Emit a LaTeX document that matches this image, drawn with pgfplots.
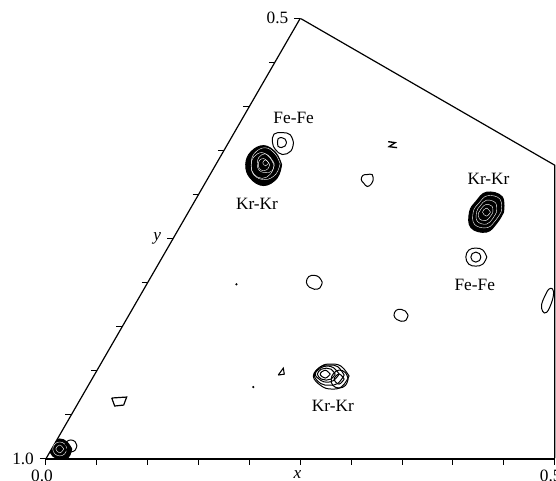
\documentclass[border=0pt]{standalone}
\usepackage{fontspec}
\setmainfont{Liberation Serif}
\usepackage{pgfplots}
\pgfplotsset{compat=1.18}
\pgfplotsset{
 cont/.style={black, line width=0.75pt, smooth, tension=0.7, mark=none},
 blk/.style={black, fill=black, line width=0.75pt, smooth, tension=0.7, mark=none},
 wht/.style={white, line width=0.3pt, smooth, tension=0.7, mark=none},
}
\begin{document}
\fontsize{13}{15}\selectfont
\begin{tikzpicture}
\begin{axis}[
  x={(765pt,0pt)}, y={(-382.5pt,-662.5pt)},
  xmin=0, xmax=0.5, ymin=0.5, ymax=1,
  axis x line=bottom, axis y line=left,
  axis line style={-, line width=0.9pt},
  tick align=outside,
  major tick length=4.5pt,
  tick style={line width=0.8pt, black},
  xtick={0,0.05,0.1,0.15,0.2,0.25,0.3,0.35,0.4,0.45,0.5},
  xticklabels={0.0,,,,,\textit{x},,,,,0.5},
  ytick={0.5,0.55,0.6,0.65,0.7,0.75,0.8,0.85,0.9,0.95,1.0},
  yticklabels={0.5,,,,,\textit{y},,,,,1.0},
  ticklabel style={font=\fontsize{13}{15}\selectfont},
  xticklabel style={xshift=4.5pt},
  clip marker paths=false,
]
\coordinate (O) at (axis cs:0,1);
% frame
\addplot[black, line width=0.9pt, mark=none] coordinates {(0,0.5) (0.33333,0.66667) (0.5,1)};
% x-axis tick marks below the line
\addplot[only marks, mark=|, mark size=2.6pt, mark options={yshift=-2.2pt, line width=0.8pt}, black] coordinates {(0,1) (0.05,1) (0.1,1) (0.15,1) (0.2,1) (0.25,1) (0.3,1) (0.35,1) (0.4,1) (0.45,1) (0.5,1)};
% Kr-Kr upper left
\addplot[blk] coordinates {(0.0646,0.6660) (0.0520,0.6524) (0.0363,0.6445) (0.0273,0.6516) (0.0294,0.6660) (0.0414,0.6812) (0.0589,0.6898) (0.0678,0.6812) (0.0646,0.6660)};
\addplot[wht] coordinates {(0.0627,0.6650) (0.0521,0.6538) (0.0390,0.6469) (0.0316,0.6530) (0.0343,0.6650) (0.0433,0.6778) (0.0570,0.6831) (0.0644,0.6770) (0.0627,0.6650)};
\addplot[wht] coordinates {(0.0578,0.6670) (0.0492,0.6582) (0.0387,0.6523) (0.0329,0.6574) (0.0352,0.6670) (0.0425,0.6766) (0.0534,0.6817) (0.0591,0.6766) (0.0578,0.6670)};
\addplot[wht] coordinates {(0.0568,0.6650) (0.0503,0.6586) (0.0424,0.6537) (0.0382,0.6578) (0.0402,0.6650) (0.0454,0.6722) (0.0531,0.6752) (0.0589,0.6730) (0.0568,0.6650)};
\addplot[wht] coordinates {(0.0529,0.6660) (0.0485,0.6620) (0.0436,0.6592) (0.0404,0.6612) (0.0421,0.6660) (0.0452,0.6708) (0.0504,0.6728) (0.0536,0.6708) (0.0529,0.6660)};
\addplot[wht] coordinates {(0.0509,0.6640) (0.0463,0.6606) (0.0451,0.6640) (0.0497,0.6674) (0.0509,0.6640)};
% Fe-Fe upper
\addplot[cont] coordinates {(0.0638,0.6410) (0.0562,0.6322) (0.0474,0.6297) (0.0399,0.6314) (0.0432,0.6410) (0.0501,0.6490) (0.0598,0.6546) (0.0661,0.6506) (0.0638,0.6410)};
\addplot[cont] coordinates {(0.0569,0.6410) (0.0535,0.6370) (0.0492,0.6353) (0.0465,0.6370) (0.0481,0.6410) (0.0505,0.6450) (0.0548,0.6467) (0.0575,0.6450) (0.0569,0.6410)};
% Kr-Kr right
\addplot[blk] coordinates {(0.3097,0.7200) (0.2995,0.7024) (0.2817,0.6974) (0.2766,0.7080) (0.2763,0.7200) (0.2866,0.7376) (0.3043,0.7426) (0.3094,0.7320) (0.3097,0.7200)};
\addplot[wht] coordinates {(0.3072,0.7195) (0.2988,0.7051) (0.2845,0.7014) (0.2804,0.7099) (0.2798,0.7195) (0.2882,0.7339) (0.3025,0.7376) (0.3066,0.7291) (0.3072,0.7195)};
\addplot[wht] coordinates {(0.3028,0.7200) (0.2968,0.7096) (0.2862,0.7064) (0.2832,0.7128) (0.2832,0.7200) (0.2892,0.7304) (0.2998,0.7336) (0.3028,0.7272) (0.3028,0.7200)};
\addplot[wht] coordinates {(0.2994,0.7205) (0.2951,0.7133) (0.2880,0.7114) (0.2859,0.7157) (0.2856,0.7205) (0.2899,0.7277) (0.2970,0.7296) (0.2991,0.7253) (0.2994,0.7205)};
\addplot[wht] coordinates {(0.2969,0.7200) (0.2907,0.7155) (0.2891,0.7200) (0.2953,0.7245) (0.2969,0.7200)};
% Fe-Fe right
\addplot[cont] coordinates {(0.3188,0.7710) (0.3109,0.7630) (0.3029,0.7608) (0.2971,0.7630) (0.2982,0.7710) (0.3051,0.7790) (0.3131,0.7812) (0.3189,0.7790) (0.3188,0.7710)};
\addplot[cont] coordinates {(0.3129,0.7710) (0.3095,0.7670) (0.3052,0.7653) (0.3025,0.7670) (0.3031,0.7710) (0.3065,0.7750) (0.3108,0.7767) (0.3135,0.7750) (0.3129,0.7710)};
% Kr-Kr bottom
\addplot[cont] coordinates {(0.2510,0.9060) (0.2375,0.8948) (0.2266,0.8924) (0.2181,0.8948) (0.2158,0.9060) (0.2293,0.9172) (0.2408,0.9207) (0.2498,0.9180) (0.2510,0.9060)};
\addplot[cont] coordinates {(0.2456,0.9049) (0.2344,0.8953) (0.2253,0.8936) (0.2178,0.8953) (0.2162,0.9049) (0.2274,0.9145) (0.2366,0.9162) (0.2440,0.9145) (0.2456,0.9049)};
\addplot[cont] coordinates {(0.2402,0.9038) (0.2310,0.8966) (0.2239,0.8947) (0.2186,0.8966) (0.2166,0.9038) (0.2258,0.9110) (0.2329,0.9129) (0.2382,0.9110) (0.2402,0.9038)};
\addplot[cont] coordinates {(0.2362,0.9038) (0.2295,0.8982) (0.2240,0.8970) (0.2198,0.8982) (0.2186,0.9038) (0.2254,0.9094) (0.2308,0.9106) (0.2351,0.9094) (0.2362,0.9038)};
\addplot[cont] coordinates {(0.2313,0.9038) (0.2241,0.8993) (0.2215,0.9038) (0.2287,0.9083) (0.2313,0.9038)};
\addplot[cont] coordinates {(0.2517,0.9094) (0.2455,0.9022) (0.2378,0.8992) (0.2342,0.9030) (0.2351,0.9094) (0.2403,0.9166) (0.2480,0.9196) (0.2527,0.9166) (0.2517,0.9094)};
\addplot[cont] coordinates {(0.2478,0.9094) (0.2401,0.9037) (0.2380,0.9094) (0.2457,0.9151) (0.2478,0.9094)};
% origin peak
\addplot[blk] coordinates {(0.0198,0.9887) (0.0109,0.9807) (0.0024,0.9774) (-0.0029,0.9807) (-0.0018,0.9887) (0.0051,0.9967) (0.0137,1.0000) (0.0211,0.9983) (0.0198,0.9887)};
\addplot[wht] coordinates {(0.0149,0.9887) (0.0101,0.9831) (0.0040,0.9808) (0.0004,0.9831) (0.0011,0.9887) (0.0060,0.9943) (0.0120,0.9966) (0.0157,0.9943) (0.0149,0.9887)};
\addplot[wht] coordinates {(0.0119,0.9887) (0.0057,0.9842) (0.0041,0.9887) (0.0103,0.9932) (0.0119,0.9887)};
\addplot[cont] coordinates {(0.0231,0.9853) (0.0190,0.9805) (0.0138,0.9785) (0.0106,0.9805) (0.0113,0.9853) (0.0154,0.9901) (0.0206,0.9921) (0.0238,0.9901) (0.0231,0.9853)};
% small features
\addplot[cont] coordinates {(0.1632,0.6830) (0.1594,0.6774) (0.1545,0.6773) (0.1507,0.6782) (0.1514,0.6830) (0.1558,0.6870) (0.1613,0.6909) (0.1639,0.6878) (0.1632,0.6830)};
\addplot[black, line width=1pt, mark=none] coordinates {(0.1564,0.6400) (0.1638,0.6411) (0.1602,0.6457) (0.1686,0.6468)};
\addplot[cont] coordinates {(0.1714,0.7996) (0.1657,0.7940) (0.1596,0.7917) (0.1549,0.7932) (0.1558,0.7996) (0.1616,0.8052) (0.1676,0.8075) (0.1723,0.8060) (0.1714,0.7996)};
\addplot[cont] coordinates {(0.2744,0.8370) (0.2693,0.8322) (0.2641,0.8302) (0.2599,0.8314) (0.2606,0.8370) (0.2657,0.8418) (0.2709,0.8438) (0.2752,0.8426) (0.2744,0.8370)};
\addplot[cont] coordinates {(0.4003,0.8064) (0.4045,0.8109) (0.4082,0.8223) (0.4090,0.8336) (0.4044,0.8324) (0.3995,0.8245) (0.3978,0.8132) (0.3979,0.8075) (0.4003,0.8064)};
\addplot[black, line width=0.8pt, mark=none] coordinates {(0.1808,0.9049) (0.1818,0.8970) (0.1862,0.9038) (0.1808,0.9049)};
\addplot[black, line width=0.9pt, mark=none] coordinates {(0.0302,0.9309) (0.0443,0.9298) (0.0459,0.9389) (0.0376,0.9400) (0.0302,0.9309)};
\addplot[only marks, mark=*, mark size=0.6pt, black] coordinates {(0.0882,0.8019) (0.1631,0.9185)};
% labels
\node at (axis cs:0.050,0.613) {Fe-Fe};
\node at (axis cs:0.063,0.711) {Kr-Kr};
\node at (axis cs:0.276,0.682) {Kr-Kr};
\node at (axis cs:0.323,0.803) {Fe-Fe};
\node at (axis cs:0.252,0.940) {Kr-Kr};
\end{axis}
\pgfresetboundingbox
\path ([shift={(-34.5pt,345pt)}]O) rectangle ([shift={(383.5pt,-16.5pt)}]O);
\end{tikzpicture}
\end{document}
